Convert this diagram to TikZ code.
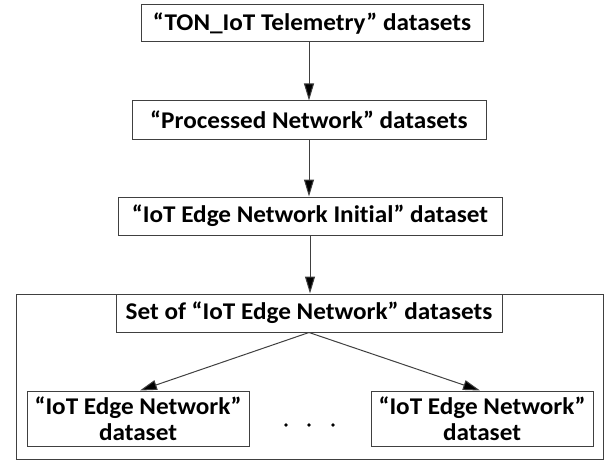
\documentclass[tikz,border=0pt]{standalone}
\usepackage{fontspec}
\setmainfont{Carlito}[Ligatures={NoCommon}]
\usetikzlibrary{arrows.meta}
\newcommand{\wideText}[1]{\scalebox{1.05}[1]{#1}}
\begin{document}
\begin{tikzpicture}[x=1pt,y=-1pt,
  box/.style={draw=black!75, line width=1pt, rectangle, inner sep=0pt, align=center,
    font=\fontsize{24}{26}\selectfont\bfseries},
  arr/.style={draw=black!75, line width=1pt, -{Triangle[length=17pt,width=10pt,fill=black]}}]
\useasboundingbox (0,0) rectangle (611,460);
\node[box, minimum width=342, minimum height=37] (b1) at (312,23.5) {\wideText{“TON\_IoT Telemetry” datasets}};
\node[box, minimum width=354, minimum height=38] (b2) at (309,120) {\wideText{“Processed Network” datasets}};
\node[box, minimum width=384, minimum height=38] (b3) at (310,216) {\wideText{“IoT Edge Network Initial” dataset}};
\node[box, minimum width=587, minimum height=165] (outer) at (309.5,376.5) {};
\node[box, minimum width=386, minimum height=38] (set) at (309,313) {\wideText{Set of “IoT Edge Network” datasets}};
\node[box, minimum width=222, minimum height=55, font=\fontsize{24}{26}\selectfont\bfseries] (bl) at (138,418.5) {\wideText{“IoT Edge Network”}\\\wideText{dataset}};
\node[box, minimum width=222, minimum height=55, font=\fontsize{24}{26}\selectfont\bfseries] (br) at (482,418.5) {\wideText{“IoT Edge Network”}\\\wideText{dataset}};
\fill (286,425) circle (1.9) (309,425) circle (1.9) (333,425) circle (1.9);
\draw[arr] (b2.north |- b1.south) -- (b2.north);
\draw[arr] (b2.south) -- (b2.south |- b3.north);
\draw[arr] (b3.south) -- (b3.south |- set.north);
\draw[arr] (set.south) -- ([xshift=2pt]bl.north);
\draw[arr] (set.south) -- ([xshift=-2pt]br.north);
\end{tikzpicture}
\end{document}
